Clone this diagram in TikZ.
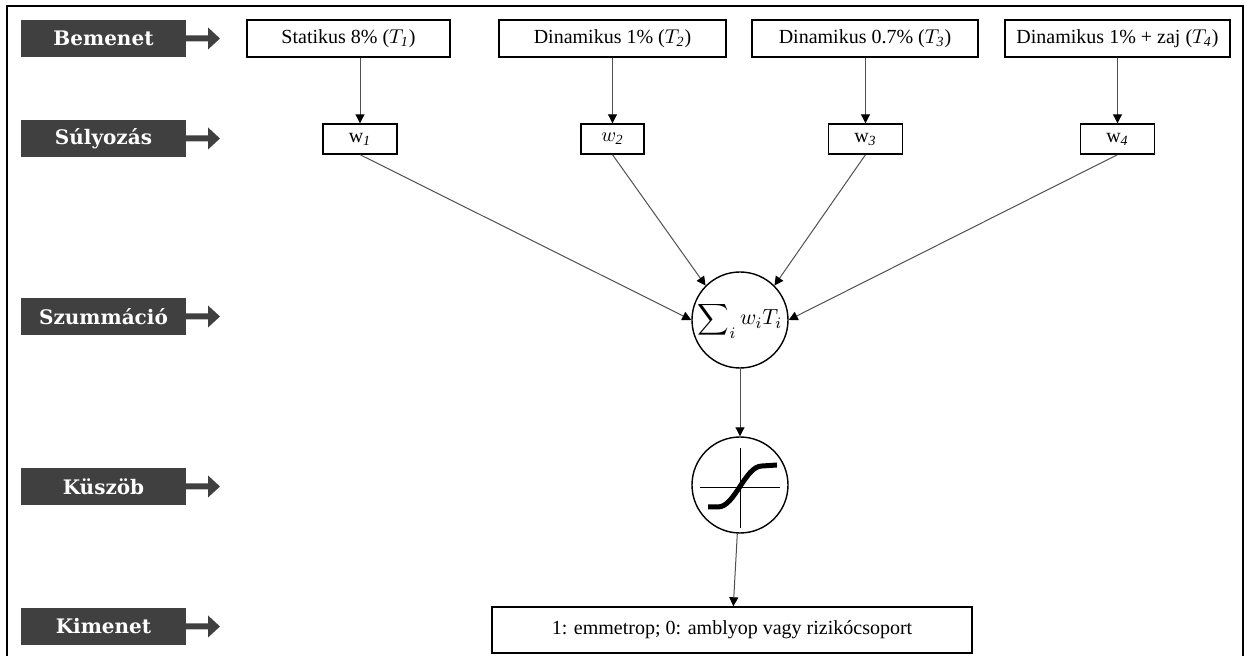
\documentclass[tikz,border=0pt]{standalone}
\usepackage{amsmath}
\usepackage{exscale}
\usepackage{fontspec}
\setmainfont{Liberation Serif}
\newfontfamily\stagefont{DejaVu Serif}
\usepackage{xcolor}
\usetikzlibrary{arrows.meta}
\definecolor{stagegray}{HTML}{404040}
\definecolor{linegray}{HTML}{505050}

\begin{document}
\begin{tikzpicture}[
	x=0.5pt, y=-0.5pt,
	every node/.style={font=\fontsize{10}{12}\selectfont},
	stagebox/.style={shape=rectangle, fill=stagegray, text=white, minimum width=82.5pt, minimum height=18.5pt, font=\stagefont\bfseries\fontsize{10}{12}\selectfont},
	inbox/.style={shape=rectangle, draw=black, line width=0.7pt, minimum height=18.5pt, inner sep=2pt},
	wbox/.style={shape=rectangle, draw=black, line width=0.7pt, minimum width=37pt, minimum height=15pt, inner sep=1pt},
	unitnode/.style={shape=circle, draw=black, line width=0.7pt, minimum size=48pt, inner sep=0pt},
	conn/.style={draw=linegray, line width=0.5pt, -{Triangle[width=4.5pt,length=4.5pt,color=black]}},
]
\useasboundingbox (0,0) rectangle (1244,656);
\draw[line width=0.8pt] (7,680) -- (7,6) -- (1243,6) -- (1243,680);

% stages on the left
\foreach \y/\txt/\nm in {38.5/Bemenet/stIn, 138.5/Súlyozás/stW, 316.5/Szummáció/stSum, 486.5/Küszöb/stThr, 626.5/Kimenet/stOut}{
	\node[stagebox] (\nm) at (103.5,\y) {\txt};
	\fill[stagegray] (186,\y-3) -- (208,\y-3) -- (208,\y-11) -- (220,\y) -- (208,\y+11) -- (208,\y+3) -- (186,\y+3) -- cycle;
}

% inputs
\node[inbox, minimum width=101.5pt] (T1) at (348.5,38.5) {Statikus 8\% ($T_{\mathit{1}}$)};
\node[inbox, minimum width=113.5pt] (T2) at (612.5,38.5) {Dinamikus 1\% ($T_{\mathit{2}}$)};
\node[inbox, minimum width=113pt] (T3) at (865,38.5) {Dinamikus 0.7\% ($T_{\mathit{3}}$)};
\node[inbox, minimum width=112.5pt] (T4) at (1117.5,38.5) {Dinamikus 1\% + zaj ($T_{\mathit{4}}$)};

% weights
\node[wbox] (w1) at (360,139) {w$_{\mathit{1}}$};
\node[wbox, minimum width=31.5pt] (w2) at (612.5,139) {$w_{\mathit{2}}$};
\node[wbox] (w3) at (865.5,139) {w$_{\mathit{3}}$};
\node[wbox] (w4) at (1117.5,139) {w$_{\mathit{4}}$};

\draw[conn] (T1.south -| w1.north) -- (w1.north);
\draw[conn] (T2.south -| w2.north) -- (w2.north);
\draw[conn] (T3.south -| w3.north) -- (w3.north);
\draw[conn] (T4.south -| w4.north) -- (w4.north);

% sum and threshold
\node[unitnode] (sum) at (740,320) {\makebox[0pt]{\fontsize{11}{13}\selectfont$\displaystyle\sum\nolimits_{i} w_{i}T_{i}$}};
\node[unitnode] (thr) at (740,485) {};
\draw[line width=0.5pt] (700,488) -- (780,488);
\draw[line width=0.5pt] (740,448) -- (740,528);
\draw[line width=2.5pt] (708,507) -- (718,507) .. controls (735,507) and (745,466) .. (762,466) -- (777,465);

\draw[conn] (w1.south) -- (sum.west);
\draw[conn] (w2.south) -- (sum.north west);
\draw[conn] (w3.south) -- (sum.north east);
\draw[conn] (w4.south) -- (sum.east);
\draw[conn] (sum) -- (thr);

% output
\node[inbox, minimum width=240pt, minimum height=23pt] (out) at (732,630) {1: emmetrop; 0: amblyop vagy rizikócsoport};
\draw[conn] (thr) -- (out);
\end{tikzpicture}
\end{document}
